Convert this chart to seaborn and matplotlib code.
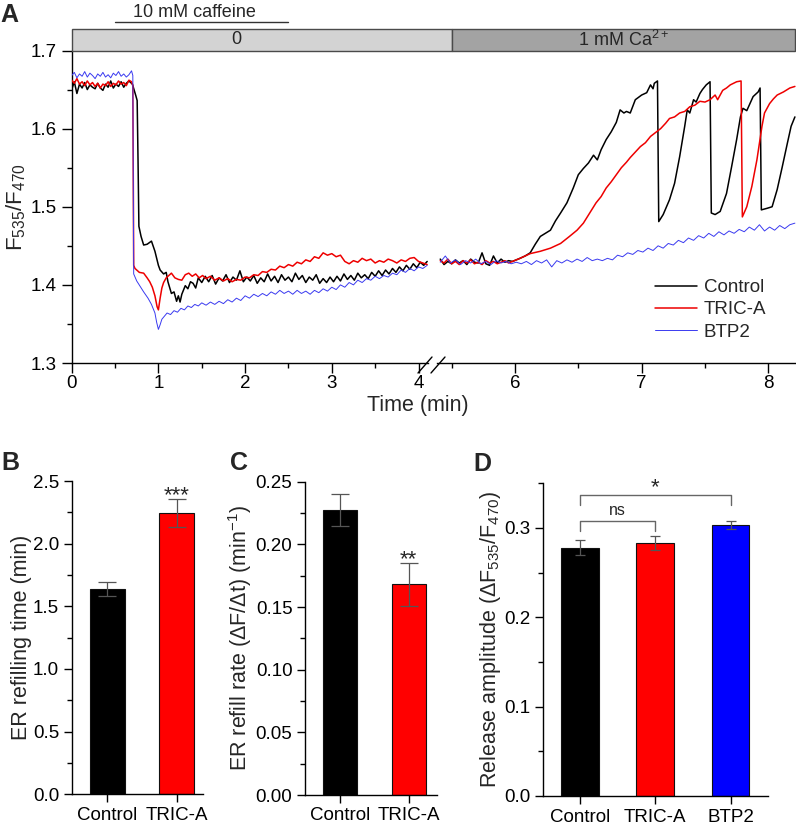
import numpy as np
import pandas as pd
import seaborn as sns
import matplotlib.pyplot as plt
from matplotlib.patches import Rectangle
from matplotlib.lines import Line2D
from matplotlib.ticker import MultipleLocator, AutoMinorLocator

sns.set_style('ticks')
plt.rcParams['font.family'] = ['Liberation Sans', 'DejaVu Sans']
plt.rcParams['mathtext.fontset'] = 'custom'
plt.rcParams['mathtext.rm'] = 'Liberation Sans'
plt.rcParams['mathtext.it'] = 'Liberation Sans:italic'
plt.rcParams['mathtext.bf'] = 'Liberation Sans:bold'
plt.rcParams['mathtext.default'] = 'regular'
plt.rcParams['axes.linewidth'] = 1.0
plt.rcParams['axes.edgecolor'] = 'black'
plt.rcParams['xtick.color'] = 'black'
plt.rcParams['ytick.color'] = 'black'

# ---------------- panel A traces (time in min, F535/F470) ----------------
# Control, before break
ctrl_t_left = [0.00, 0.03, 0.06, 0.09, 0.12, 0.15, 0.18, 0.21, 0.24, 0.27, 0.30, 0.33, 0.36, 0.39,
               0.42, 0.45, 0.48, 0.51, 0.54, 0.57, 0.60, 0.63, 0.66, 0.70, 0.74, 0.755, 0.765, 0.775,
               0.80, 0.83, 0.87, 0.92, 0.96, 1.00, 1.02, 1.06, 1.09, 1.11, 1.15, 1.18, 1.21, 1.23,
               1.25, 1.27, 1.31, 1.34, 1.37, 1.40, 1.43, 1.46, 1.50,
               1.54, 1.58, 1.62, 1.66, 1.70, 1.74, 1.78, 1.82, 1.86, 1.90, 1.94, 1.98, 2.02, 2.06,
               2.10, 2.14, 2.18, 2.22, 2.26, 2.30, 2.34, 2.38, 2.42, 2.46, 2.50, 2.54, 2.58, 2.62,
               2.66, 2.70, 2.74, 2.78, 2.82, 2.86, 2.90, 2.94, 2.98, 3.02, 3.06, 3.10, 3.14, 3.18,
               3.22, 3.26, 3.30, 3.34, 3.38, 3.42, 3.46, 3.50, 3.54, 3.58, 3.62, 3.66, 3.70, 3.74,
               3.78, 3.82, 3.86, 3.90, 3.94, 3.98, 4.02, 4.06, 4.10]
ctrl_left = [1.650, 1.660, 1.645, 1.657, 1.652, 1.659, 1.650, 1.656, 1.653, 1.651, 1.658, 1.652, 1.649, 1.657,
             1.653, 1.661, 1.652, 1.657, 1.654, 1.660, 1.653, 1.658, 1.661, 1.657, 1.642, 1.636, 1.560, 1.475,
             1.462, 1.451, 1.452, 1.456, 1.443, 1.425, 1.419, 1.414, 1.416, 1.404, 1.389, 1.391, 1.379, 1.386,
             1.378, 1.388, 1.399, 1.395, 1.404, 1.402, 1.396, 1.409, 1.403,
             1.411, 1.404, 1.412, 1.401, 1.409, 1.405, 1.413, 1.403, 1.410, 1.406, 1.418, 1.404, 1.410, 1.405,
             1.412, 1.402, 1.409, 1.404, 1.414, 1.405, 1.411, 1.403, 1.413, 1.406, 1.410, 1.404, 1.415, 1.407,
             1.412, 1.403, 1.410, 1.406, 1.413, 1.402, 1.408, 1.403, 1.410, 1.404, 1.411, 1.405, 1.414, 1.407,
             1.412, 1.406, 1.415, 1.409, 1.413, 1.408, 1.416, 1.411, 1.418, 1.412, 1.419, 1.414, 1.421, 1.416,
             1.423, 1.418, 1.425, 1.420, 1.427, 1.422, 1.429, 1.425, 1.430]

# TRIC-A, before break
tric_t_left = [0.00, 0.03, 0.06, 0.09, 0.12, 0.15, 0.18, 0.21, 0.24, 0.27, 0.30, 0.33, 0.36, 0.39,
               0.42, 0.45, 0.48, 0.51, 0.54, 0.57, 0.60, 0.63, 0.66, 0.69, 0.705, 0.715, 0.73, 0.78,
               0.83, 0.87, 0.90, 0.93, 0.96, 0.985, 1.00, 1.02, 1.04, 1.06, 1.09, 1.11, 1.15, 1.19,
               1.23, 1.27, 1.31, 1.35, 1.39, 1.43, 1.47, 1.51,
               1.55, 1.60, 1.65, 1.70, 1.75, 1.80, 1.85, 1.90, 1.95, 2.00, 2.05, 2.10, 2.15, 2.20,
               2.25, 2.30, 2.35, 2.40, 2.45, 2.50, 2.55, 2.60, 2.65, 2.70, 2.75, 2.80, 2.85, 2.90,
               2.95, 3.00, 3.05, 3.10, 3.15, 3.20, 3.25, 3.30, 3.35, 3.40, 3.45, 3.50, 3.55, 3.60,
               3.65, 3.70, 3.75, 3.80, 3.85, 3.90, 3.95, 4.00, 4.05, 4.10]
tric_left = [1.662, 1.658, 1.664, 1.657, 1.660, 1.655, 1.661, 1.656, 1.659, 1.654, 1.658, 1.652, 1.657, 1.655,
             1.660, 1.654, 1.658, 1.656, 1.661, 1.657, 1.659, 1.655, 1.662, 1.660, 1.655, 1.425, 1.421, 1.416,
             1.415, 1.409, 1.404, 1.397, 1.386, 1.372, 1.368, 1.383, 1.396, 1.403, 1.409, 1.411, 1.415, 1.409,
             1.407, 1.406, 1.413, 1.415, 1.411, 1.414, 1.409, 1.412,
             1.408, 1.411, 1.406, 1.409, 1.405, 1.408, 1.404, 1.407, 1.406, 1.410, 1.409, 1.413, 1.412, 1.417,
             1.416, 1.420, 1.419, 1.424, 1.422, 1.426, 1.424, 1.429, 1.427, 1.432, 1.430, 1.436, 1.434, 1.441,
             1.438, 1.440, 1.436, 1.438, 1.430, 1.427, 1.431, 1.429, 1.434, 1.431, 1.433, 1.428, 1.431, 1.429,
             1.433, 1.431, 1.428, 1.432, 1.430, 1.434, 1.435, 1.430, 1.428, 1.426]

# BTP2, before break
btp_t_left = [0.00, 0.03, 0.06, 0.09, 0.12, 0.15, 0.18, 0.21, 0.24, 0.27, 0.30, 0.33, 0.36, 0.39,
              0.42, 0.45, 0.48, 0.51, 0.54, 0.57, 0.60, 0.63, 0.66, 0.69, 0.705, 0.715, 0.75, 0.79,
              0.83, 0.88, 0.92, 0.96, 0.98, 1.00, 1.02, 1.04, 1.07, 1.10, 1.14, 1.18, 1.22, 1.26,
              1.30, 1.34, 1.38, 1.42, 1.46,
              1.50, 1.55, 1.60, 1.65, 1.70, 1.75, 1.80, 1.85, 1.90, 1.95, 2.00, 2.05, 2.10, 2.15,
              2.20, 2.25, 2.30, 2.35, 2.40, 2.45, 2.50, 2.55, 2.60, 2.65, 2.70, 2.75, 2.80, 2.85,
              2.90, 2.95, 3.00, 3.05, 3.10, 3.15, 3.20, 3.25, 3.30, 3.35, 3.40, 3.45, 3.50, 3.55,
              3.60, 3.65, 3.70, 3.75, 3.80, 3.85, 3.90, 3.95, 4.00, 4.05, 4.10]
btp_left = [1.668, 1.672, 1.665, 1.670, 1.667, 1.673, 1.666, 1.671, 1.668, 1.664, 1.670, 1.667, 1.672, 1.666,
            1.669, 1.665, 1.671, 1.668, 1.673, 1.667, 1.670, 1.666, 1.669, 1.674, 1.668, 1.414, 1.405, 1.398,
            1.391, 1.383, 1.375, 1.364, 1.352, 1.343, 1.349, 1.356, 1.360, 1.364, 1.362, 1.367, 1.365, 1.370,
            1.368, 1.373, 1.371, 1.375, 1.373,
            1.377, 1.374, 1.378, 1.375, 1.379, 1.376, 1.381, 1.378, 1.383, 1.380, 1.386, 1.383, 1.388, 1.385,
            1.389, 1.386, 1.391, 1.388, 1.393, 1.389, 1.392, 1.388, 1.393, 1.389, 1.392, 1.388, 1.393, 1.390,
            1.395, 1.392, 1.397, 1.394, 1.400, 1.397, 1.403, 1.400, 1.406, 1.403, 1.408, 1.406, 1.411, 1.408,
            1.412, 1.410, 1.415, 1.413, 1.419, 1.416, 1.421, 1.418, 1.423, 1.421, 1.425]

# Control, after break (Ca2+ add-back)
ctrl_t_right = [5.41, 5.44, 5.47, 5.50, 5.53, 5.56, 5.59, 5.62, 5.65, 5.68, 5.71, 5.74, 5.77, 5.80,
                5.83, 5.86, 5.89, 5.92, 5.95, 5.98, 6.04, 6.08, 6.12, 6.16, 6.20, 6.24, 6.28, 6.32,
                6.36, 6.41, 6.46, 6.50, 6.54, 6.58, 6.62, 6.65, 6.68, 6.72, 6.76, 6.80, 6.83, 6.86,
                6.88, 6.91, 6.95, 7.00, 7.04, 7.07, 7.09, 7.10, 7.125, 7.135, 7.17, 7.22, 7.26, 7.30,
                7.34, 7.36, 7.38, 7.41, 7.43, 7.46, 7.48, 7.51, 7.54, 7.55, 7.58, 7.62, 7.67, 7.71,
                7.75, 7.78, 7.80, 7.83, 7.88, 7.92, 7.935, 7.945, 7.99, 8.03, 8.07, 8.11, 8.15, 8.18, 8.21]
ctrl_right = [1.433, 1.426, 1.430, 1.427, 1.432, 1.428, 1.431, 1.426, 1.433, 1.429, 1.428, 1.441, 1.427, 1.425,
              1.437, 1.428, 1.433, 1.429, 1.431, 1.430, 1.434, 1.437, 1.441, 1.452, 1.462, 1.466, 1.470, 1.482,
              1.492, 1.505, 1.524, 1.541, 1.549, 1.556, 1.566, 1.560, 1.573, 1.586, 1.596, 1.608, 1.624, 1.620,
              1.622, 1.620, 1.637, 1.643, 1.646, 1.656, 1.651, 1.658, 1.661, 1.481, 1.490, 1.509, 1.530, 1.564,
              1.603, 1.624, 1.620, 1.637, 1.634, 1.645, 1.650, 1.656, 1.660, 1.492, 1.490, 1.494, 1.517, 1.551,
              1.586, 1.615, 1.626, 1.623, 1.641, 1.647, 1.652, 1.496, 1.498, 1.500, 1.522, 1.551, 1.581, 1.603, 1.615]

# TRIC-A, after break
tric_t_right = [5.41, 5.44, 5.47, 5.50, 5.53, 5.56, 5.59, 5.62, 5.65, 5.68, 5.71, 5.74, 5.77, 5.80,
                5.83, 5.86, 5.89, 5.92, 5.95, 5.98, 6.04, 6.12, 6.20, 6.28, 6.36, 6.43, 6.49, 6.54,
                6.59, 6.64, 6.68, 6.72, 6.76, 6.80, 6.84, 6.88, 6.91, 6.95, 6.99, 7.03, 7.07, 7.11,
                7.15, 7.19, 7.22, 7.26, 7.30, 7.34, 7.38, 7.42, 7.46, 7.50, 7.54, 7.58, 7.60, 7.64,
                7.67, 7.70, 7.75, 7.785, 7.795, 7.83, 7.87, 7.91, 7.95, 7.97, 8.01, 8.04, 8.07, 8.12,
                8.17, 8.21]
tric_right = [1.431, 1.428, 1.433, 1.427, 1.430, 1.426, 1.431, 1.428, 1.432, 1.427, 1.429, 1.426, 1.431, 1.428,
              1.430, 1.427, 1.429, 1.431, 1.428, 1.430, 1.434, 1.440, 1.443, 1.447, 1.453, 1.462, 1.470, 1.479,
              1.492, 1.505, 1.513, 1.524, 1.532, 1.541, 1.550, 1.557, 1.563, 1.570, 1.577, 1.582, 1.590, 1.595,
              1.600, 1.607, 1.613, 1.615, 1.620, 1.622, 1.628, 1.630, 1.635, 1.634, 1.637, 1.643, 1.637, 1.649,
              1.652, 1.656, 1.660, 1.661, 1.487, 1.500, 1.526, 1.560, 1.603, 1.620, 1.632, 1.638, 1.643, 1.647,
              1.652, 1.654]

# BTP2, after break
btp_t_right = [5.41, 5.45, 5.49, 5.53, 5.57, 5.61, 5.65, 5.69, 5.73, 5.77, 5.81, 5.85, 5.89, 5.93,
               5.97, 6.01, 6.05, 6.09, 6.13, 6.17, 6.21, 6.25, 6.29, 6.33, 6.37, 6.41, 6.45, 6.49,
               6.53, 6.57, 6.61, 6.65, 6.69, 6.73, 6.77, 6.81, 6.85, 6.89, 6.93, 6.97, 7.01, 7.05,
               7.09, 7.13, 7.17, 7.21, 7.25, 7.29, 7.33, 7.37, 7.41, 7.45, 7.49, 7.53, 7.57, 7.61,
               7.65, 7.69, 7.73, 7.77, 7.81, 7.85, 7.89, 7.93, 7.97, 8.01, 8.05, 8.09, 8.13, 8.17, 8.21]
btp_right = [1.429, 1.437, 1.428, 1.432, 1.426, 1.431, 1.428, 1.433, 1.427, 1.430, 1.426, 1.431, 1.428, 1.430,
             1.427, 1.429, 1.427, 1.430, 1.426, 1.431, 1.428, 1.432, 1.423, 1.431, 1.428, 1.432, 1.429, 1.433,
             1.430, 1.435, 1.431, 1.433, 1.431, 1.434, 1.432, 1.438, 1.436, 1.441, 1.439, 1.444, 1.442, 1.447,
             1.444, 1.450, 1.447, 1.453, 1.451, 1.457, 1.454, 1.460, 1.457, 1.463, 1.460, 1.466, 1.462, 1.468,
             1.464, 1.469, 1.466, 1.471, 1.468, 1.474, 1.470, 1.477, 1.469, 1.474, 1.470, 1.476, 1.472, 1.477, 1.479]

# ---------------- bar panels ----------------
groups_bc = ['Control', 'TRIC-A']
refill_time = [1.64, 2.245]
refill_time_err = [0.055, 0.11]
refill_rate = [0.2275, 0.168]
refill_rate_err = [0.0125, 0.017]

groups_d = ['Control', 'TRIC-A', 'BTP2']
release_amp = [0.2777, 0.2835, 0.3035]
release_amp_err = [0.0085, 0.008, 0.0042]

conditions = ['Control', 'TRIC-A', 'BTP2']
trace_colors = {'Control': '#000000', 'TRIC-A': '#ee0000', 'BTP2': '#3a3af0'}
trace_widths = {'Control': 1.1, 'TRIC-A': 1.1, 'BTP2': 0.7}
bar_colors = {'Control': '#000000', 'TRIC-A': '#ff0000', 'BTP2': '#0000ff'}


def traces(parts):
    frames = []
    for name, t, v in parts:
        frames.append(pd.DataFrame({'t': t, 'ratio': v, 'cond': name}))
    return pd.concat(frames, ignore_index=True)


df_left = traces([('Control', ctrl_t_left, ctrl_left), ('TRIC-A', tric_t_left, tric_left),
                  ('BTP2', btp_t_left, btp_left)])
df_right = traces([('Control', ctrl_t_right, ctrl_right), ('TRIC-A', tric_t_right, tric_right),
                   ('BTP2', btp_t_right, btp_right)])

W, H = 796, 832
fig = plt.figure(figsize=(W / 100, H / 100), dpi=100)


def box(x0, y0, x1, y1):
    # pixel box (top-left origin) -> figure fraction rect
    return [x0 / W, 1 - y1 / H, (x1 - x0) / W, (y1 - y0) / H]


FS = 13
LAB = 15.5
axL = fig.add_axes(box(71.7, 50.5, 428, 363))
axR = fig.add_axes(box(437, 50.5, 796, 363))

for ax, df in [(axL, df_left), (axR, df_right)]:
    sns.lineplot(data=df, x='t', y='ratio', hue='cond', size='cond', hue_order=conditions,
                 palette=trace_colors, sizes=trace_widths, size_order=conditions,
                 estimator=None, sort=False, legend=False, ax=ax, zorder=3)
    ax.set_ylim(1.3, 1.7)
    ax.set_xlabel('')
    ax.set_ylabel('')
    ax.spines['top'].set_visible(False)
    ax.spines['right'].set_visible(False)
    ax.xaxis.set_major_locator(MultipleLocator(1))
    ax.xaxis.set_minor_locator(MultipleLocator(0.5))
    ax.tick_params(axis='both', which='major', length=7, width=1, labelsize=FS + 0.5, direction='out')
    ax.tick_params(axis='both', which='minor', length=3.6, width=1, direction='out')
    ax.tick_params(axis='x', which='major', pad=1.5)

axL.set_xlim(0, (428 - 71.7) / 86.7)
axR.set_xlim(6 - (515 - 437) / 126.7, 8 + (796 - 768.3) / 126.7)
axL.yaxis.set_major_locator(MultipleLocator(0.1))
axL.yaxis.set_minor_locator(MultipleLocator(0.05))
axL.set_ylabel('F$_{535}$/F$_{470}$', fontsize=16, labelpad=2)
axR.spines['left'].set_visible(False)
axR.set_yticks([])
axR.tick_params(axis='y', which='both', left=False)

fig.text(418 / W, 1 - 405 / H, 'Time (min)', ha='center', va='center', fontsize=15.5)

# axis break marks
for xa, xb in [(418, 432), (431, 445)]:
    fig.add_artist(Line2D([xa / W, xb / W], [1 - 373 / H, 1 - 357 / H], color='black', lw=1.0))

# solution bar on top
split = fig.transFigure.inverted().transform(axR.transData.transform((5.5, 1.5)))[0]
y_lo, y_hi = 1 - 50.5 / H, 1 - 29.3 / H
fig.add_artist(Rectangle((71.7 / W, y_lo), split - 71.7 / W, y_hi - y_lo, transform=fig.transFigure,
                         facecolor='#d3d3d3', edgecolor='#4a4a4a', lw=1.0))
fig.add_artist(Rectangle((split, y_lo), 795 / W - split, y_hi - y_lo, transform=fig.transFigure,
                         facecolor='#a3a3a3', edgecolor='#4a4a4a', lw=1.0))
fig.text(236.7 / W, (y_lo + y_hi) / 2, '0', ha='center', va='center', fontsize=FS)
fig.text((split + 795 / W) / 2, (y_lo + y_hi) / 2, '1 mM Ca$^{2+}$', ha='center', va='center', fontsize=FS)

# caffeine application
caf_y = 1 + (50.5 - 22) / 312.5
axL.plot([0.5, 2.5], [caf_y, caf_y], color='#333333', lw=1.0, transform=axL.get_xaxis_transform(),
         clip_on=False)
axL.text(1.41, 1 + (50.5 - 16.7) / 312.5, '10 mM caffeine', ha='center', va='baseline', fontsize=FS,
         transform=axL.get_xaxis_transform())

handles = [Line2D([], [], color=trace_colors[c], lw=trace_widths[c]) for c in conditions]
fig.legend(handles, conditions, loc='upper left', bbox_to_anchor=(655 / W, 1 - 279 / H),
           bbox_transform=fig.transFigure, frameon=False, fontsize=FS + 0.5, handlelength=2.25,
           handletextpad=0.35, labelspacing=0.28, borderpad=0, borderaxespad=0)


# ---------------- bar panels ----------------
def bar_panel(rect, groups, vals, errs, ylim, major, xlim, ylabel, capsize):
    ax = fig.add_axes(rect)
    df = pd.DataFrame({'group': groups, 'value': vals})
    sns.barplot(data=df, x='group', y='value', hue='group', palette=bar_colors, width=0.5,
                saturation=1, edgecolor='#111111', linewidth=0.8, legend=False, ax=ax, errorbar=None)
    ax.errorbar(x=np.arange(len(groups)), y=vals, yerr=errs, fmt='none', ecolor='#555555',
                elinewidth=0.9, capsize=capsize, capthick=0.9, zorder=5)
    ax.set_ylim(*ylim)
    ax.set_xlim(*xlim)
    ax.yaxis.set_major_locator(MultipleLocator(major))
    ax.yaxis.set_minor_locator(AutoMinorLocator(2))
    ax.spines['top'].set_visible(False)
    ax.spines['right'].set_visible(False)
    ax.tick_params(axis='both', which='major', length=5.5, width=1, labelsize=FS + 0.5, direction='out')
    ax.tick_params(axis='y', which='minor', length=3.5, width=1, direction='out')
    ax.set_xlabel('')
    ax.set_ylabel(ylabel, fontsize=LAB, labelpad=1)
    return ax


axB = bar_panel(box(71.7, 481, 203, 794.3), groups_bc, refill_time, refill_time_err, (0, 2.5), 0.5,
                (-0.513, 1.38), 'ER refilling time (min)', 6.5)
axC = bar_panel(box(305, 481.7, 437, 795), groups_bc, refill_rate, refill_rate_err, (0, 0.25), 0.05,
                (-0.507, 1.41), 'ER refill rate (ΔF/Δt) (min$^{-1}$)', 6.5)
axD = bar_panel(box(542.7, 483.3, 768.3, 796), groups_d, release_amp, release_amp_err, (0, 0.35), 0.1,
                (-0.495, 2.5), 'Release amplitude (ΔF$_{535}$/F$_{470}$)', 3.6)
axC.yaxis.set_major_formatter(plt.FormatStrFormatter('%.2f'))
axB.yaxis.set_major_formatter(plt.FormatStrFormatter('%.1f'))
axD.yaxis.set_major_formatter(plt.FormatStrFormatter('%.1f'))
axD.set_yticks([0, 0.1, 0.2, 0.3])


# significance marks
def stars(ax, x, y, s, dy):
    ax.annotate(s, xy=(x, y), xytext=(0, dy), textcoords='offset points', ha='center',
                va='baseline', fontsize=16, annotation_clip=False)


stars(axB, 1, refill_time[1] + refill_time_err[1], '***', -1.5)
stars(axC, 1, refill_rate[1] + refill_rate_err[1], '**', -1.5)
bk = '#666666'
axD.plot([0, 0, 1, 1], [0.2965, 0.3075, 0.3075, 0.2965], color=bk, lw=1.0, clip_on=False)
axD.annotate('ns', xy=(0.5, 0.3075), xytext=(0, 4.2), textcoords='offset points', ha='center',
             va='baseline', fontsize=11.5)
axD.plot([0, 0, 2, 2], [0.3262, 0.3367, 0.3367, 0.3262], color=bk, lw=1.0, clip_on=False)
stars(axD, 1, 0.3367, '*', 1.5)

# panel letters
for letter, x, y in [('A', 0, 21.7), ('B', 1.5, 469.5), ('C', 230, 469.5), ('D', 473, 471)]:
    fig.text(x / W, 1 - y / H, letter, fontsize=18, fontweight='bold', ha='left', va='baseline')

fig.savefig('out.png', dpi=100)
